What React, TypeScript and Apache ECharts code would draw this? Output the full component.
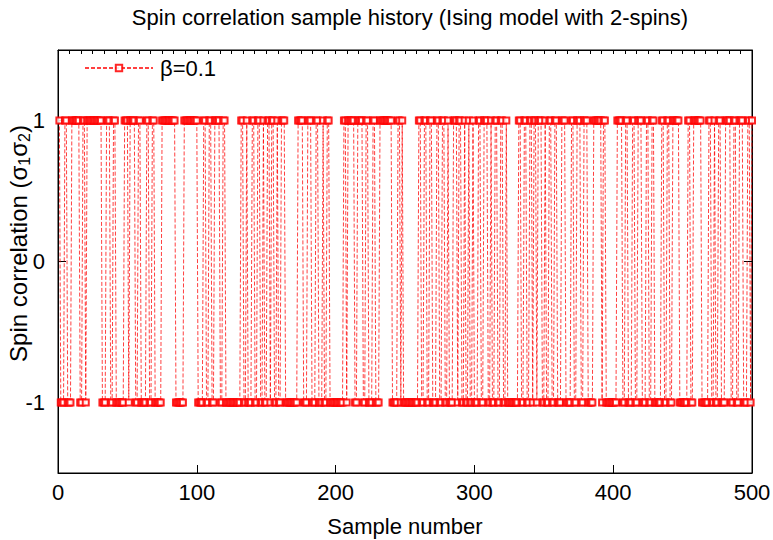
import React, { useEffect, useRef } from "react";
import * as echarts from "echarts";

// Spin correlation (sigma1*sigma2), 100 samples per block
const samples001to100 = [
  1, -1, -1, -1, 1, 1, -1, -1, -1, 1,
  1, 1, 1, 1, 1, -1, -1, 1, 1, -1,
  1, 1, 1, 1, 1, 1, 1, 1, 1, 1,
  1, -1, -1, -1, 1, 1, 1, -1, -1, 1,
  1, -1, -1, -1, -1, -1, -1, 1, 1, 1,
  -1, 1, 1, 1, 1, -1, -1, 1, 1, -1,
  -1, -1, -1, 1, 1, -1, -1, 1, 1, -1,
  -1, -1, -1, -1, 1, 1, 1, 1, 1, 1,
  1, 1, 1, 1, -1, -1, -1, -1, -1, -1,
  1, 1, 1, 1, 1, 1, 1, 1, 1, 1,
];
const samples101to200 = [
  -1, -1, -1, -1, 1, 1, -1, -1, 1, 1,
  -1, -1, 1, 1, 1, 1, -1, -1, 1, 1,
  -1, -1, -1, -1, -1, -1, -1, -1, -1, -1,
  -1, 1, 1, -1, -1, 1, -1, -1, -1, 1,
  1, -1, -1, 1, 1, -1, -1, 1, -1, -1,
  1, 1, -1, 1, 1, -1, -1, 1, -1, -1,
  1, 1, 1, -1, -1, -1, -1, -1, -1, -1,
  -1, -1, 1, 1, 1, 1, -1, -1, -1, 1,
  1, 1, -1, -1, -1, 1, 1, -1, -1, -1,
  1, -1, -1, 1, 1, -1, -1, -1, -1, -1,
];
const samples201to300 = [
  -1, -1, -1, -1, -1, 1, 1, -1, 1, 1,
  1, 1, 1, -1, -1, 1, 1, 1, 1, -1,
  -1, 1, 1, -1, -1, -1, 1, 1, -1, -1,
  -1, 1, 1, 1, 1, 1, 1, 1, 1, 1,
  -1, -1, -1, -1, 1, 1, -1, 1, -1, -1,
  -1, -1, -1, -1, -1, -1, -1, -1, -1, 1,
  1, -1, -1, 1, 1, -1, -1, 1, 1, -1,
  -1, -1, 1, 1, -1, -1, 1, 1, -1, -1,
  1, -1, -1, -1, 1, 1, 1, -1, 1, 1,
  -1, -1, 1, -1, -1, 1, -1, -1, 1, -1,
];
const samples301to400 = [
  -1, -1, 1, 1, -1, -1, 1, 1, 1, -1,
  -1, 1, -1, -1, 1, 1, -1, -1, 1, 1,
  -1, -1, 1, -1, -1, -1, -1, -1, -1, -1,
  -1, 1, 1, -1, -1, 1, 1, -1, -1, 1,
  1, -1, 1, 1, -1, 1, 1, 1, -1, -1,
  1, -1, -1, 1, 1, -1, -1, 1, 1, -1,
  -1, -1, 1, 1, 1, -1, -1, -1, -1, 1,
  1, -1, -1, 1, 1, 1, -1, -1, 1, 1,
  1, -1, -1, -1, -1, 1, 1, 1, 1, 1,
  1, -1, 1, 1, -1, -1, -1, -1, -1, -1,
];
const samples401to500 = [
  -1, -1, 1, 1, 1, 1, -1, -1, 1, 1,
  -1, -1, -1, 1, 1, -1, -1, 1, 1, 1,
  -1, -1, -1, 1, 1, -1, -1, 1, 1, -1,
  -1, -1, -1, -1, 1, 1, -1, -1, 1, 1,
  -1, -1, 1, 1, 1, 1, 1, -1, -1, -1,
  -1, -1, -1, 1, 1, -1, -1, 1, 1, 1,
  1, 1, 1, -1, -1, -1, -1, -1, 1, 1,
  -1, -1, 1, -1, -1, 1, 1, -1, -1, -1,
  1, 1, 1, 1, -1, -1, 1, 1, -1, -1,
  1, 1, 1, -1, -1, -1, 1, 1, -1, 1,
];

const seriesName = "β=0.1";
const titleText = "Spin correlation sample history (Ising model with 2-spins)";
const xAxisTitle = "Sample number";
const xTickValues = [0, 100, 200, 300, 400, 500];
const yTickValues = [-1, 0, 1];
const topTickCount = 60; // small ticks along the top frame

const spinCorrelation = [
  ...samples001to100,
  ...samples101to200,
  ...samples201to300,
  ...samples301to400,
  ...samples401to500,
];

const FONT = "'Liberation Sans', Arial, Helvetica, sans-serif";
const FS = 22;

export default function App() {
  const ref = useRef<HTMLDivElement>(null);

  useEffect(() => {
    if (!ref.current) return;
    const chart = echarts.init(ref.current, null, { renderer: "svg" });
    const points = spinCorrelation.map((v, i) => [i + 1, v]);
    const axisLine = { show: true, onZero: false, lineStyle: { color: "#000", width: 1 } };
    const tickStyle = { color: "#000", width: 1 };
    chart.setOption({
      animation: false,
      backgroundColor: "#fff",
      textStyle: { fontFamily: FONT },
      title: {
        text: titleText,
        left: 405,
        textAlign: "center",
        top: 1,
        textStyle: { fontFamily: FONT, fontSize: FS, fontWeight: "normal", color: "#000" },
      },
      legend: {
        left: 79,
        top: 52,
        itemWidth: 68,
        itemHeight: 8,
        itemGap: 10,
        textStyle: { fontFamily: FONT, fontSize: FS, color: "#000", padding: [0, 0, 0, 2] },
        data: [{ name: seriesName }],
      },
      grid: {
        left: 58,
        right: 21,
        top: 50,
        bottom: 67,
        show: true,
        borderColor: "#000",
        borderWidth: 1,
        containLabel: false,
        outerBoundsMode: "none",
      },
      xAxis: [
        {
          type: "value",
          position: "bottom",
          min: 0,
          max: 500,
          interval: 100,
          axisLine,
          axisTick: { show: true, inside: true, length: 8, lineStyle: tickStyle, customValues: xTickValues },
          axisLabel: { color: "#000", fontSize: FS, fontFamily: FONT, margin: 8, customValues: xTickValues },
          splitLine: { show: false },
          name: xAxisTitle,
          nameLocation: "middle",
          nameGap: 42,
          nameMoveOverlap: false,
          nameTextStyle: { fontFamily: FONT, fontSize: FS, color: "#000" },
        },
        {
          type: "value",
          position: "top",
          min: 0,
          max: topTickCount,
          interval: 1,
          axisLine,
          axisTick: { show: true, inside: true, length: 4, lineStyle: tickStyle },
          axisLabel: { show: false },
          splitLine: { show: false },
        },
      ],
      yAxis: [
        {
          type: "value",
          position: "left",
          min: -1.5,
          max: 1.5,
          interval: 0.5,
          axisLine,
          axisTick: { show: true, inside: true, length: 8, lineStyle: tickStyle, customValues: yTickValues },
          axisLabel: { color: "#000", fontSize: FS, fontFamily: FONT, margin: 13, customValues: yTickValues },
          splitLine: { show: false },
          name: "Spin correlation (σ{sub|1}σ{sub|2})",
          nameLocation: "middle",
          nameGap: 26,
          nameMoveOverlap: false,
          nameTextStyle: {
            fontFamily: FONT,
            fontSize: 24,
            color: "#000",
            padding: [0, 0, 0, 36],
            rich: {
              sub: { fontFamily: FONT, fontSize: 16, color: "#000", padding: [12, 0, 0, 0] },
            },
          },
        },
        {
          type: "value",
          position: "right",
          min: -1.5,
          max: 1.5,
          interval: 0.5,
          axisLine,
          axisTick: { show: true, inside: true, length: 8, lineStyle: tickStyle, customValues: yTickValues },
          axisLabel: { show: false },
          splitLine: { show: false },
        },
      ],
      series: [
        {
          name: seriesName,
          type: "line",
          xAxisIndex: 0,
          yAxisIndex: 0,
          data: points,
          symbol: "emptyRect",
          symbolSize: 6,
          showAllSymbol: true,
          itemStyle: { color: "#ff0000", borderWidth: 1, opacity: 0.85 },
          lineStyle: { color: "#ff0000", width: 1, type: [4, 2], opacity: 0.75 },
          emphasis: { disabled: true },
        },
      ],
    });
    return () => chart.dispose();
  }, []);

  return (
    <div
      ref={ref}
      style={{ position: "fixed", left: 0, top: 0, width: 773, height: 540 }}
    />
  );
}
